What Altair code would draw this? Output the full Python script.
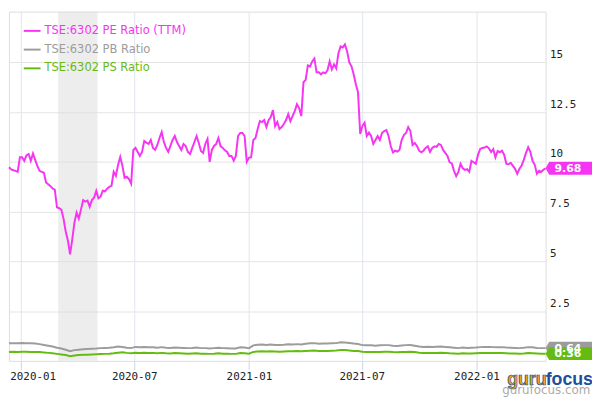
import altair as alt
import pandas as pd

# ---- data ----
start_date = "2019-12-13"
# PE Ratio (TTM), read every 3.5 days
pe_values = [
    9.73, 9.62, 9.58, 9.55, 9.50, 10.23, 10.23, 10.05, 10.33, 10.40,
    10.05, 10.42, 10.10, 9.80, 9.55, 9.50, 9.45, 8.97, 8.87, 8.78,
    8.66, 8.60, 7.72, 7.67, 7.60, 7.15, 6.50, 6.05, 5.35, 6.10,
    6.95, 7.45, 7.15, 7.60, 8.08, 8.00, 8.05, 7.75, 8.08, 8.20,
    8.54, 8.17, 8.25, 8.55, 8.52, 8.65, 8.75, 8.80, 9.50, 9.30,
    9.85, 10.25, 9.80, 9.20, 9.25, 9.13, 8.90, 10.60, 10.70, 10.50,
    10.30, 10.50, 11.05, 10.97, 10.90, 11.10, 10.70, 10.60, 10.85, 11.20,
    11.50, 11.00, 10.70, 10.50, 10.80, 11.10, 11.30, 11.00, 10.80, 10.60,
    10.90, 10.80, 10.50, 10.40, 10.70, 11.00, 11.30, 10.95, 10.55, 10.45,
    10.90, 11.15, 10.00, 10.60, 10.80, 10.90, 11.20, 10.78, 10.70, 10.58,
    10.50, 10.30, 10.30, 10.06, 10.30, 11.30, 11.45, 11.45, 11.30, 10.00,
    10.20, 10.23, 11.10, 11.20, 11.65, 12.05, 12.00, 12.10, 11.75, 12.10,
    12.25, 12.60, 11.80, 12.00, 11.65, 11.75, 11.90, 12.10, 12.40, 12.05,
    12.30, 12.55, 12.90, 12.70, 12.30, 14.00, 14.12, 14.85, 14.80, 15.05,
    15.20, 14.50, 14.50, 14.40, 14.50, 14.45, 14.60, 15.05, 14.65, 14.90,
    14.70, 15.45, 15.80, 15.75, 15.90, 15.55, 15.00, 14.80, 14.40, 13.90,
    13.50, 11.40, 11.80, 11.97, 11.30, 11.47, 11.30, 10.90, 11.10, 11.30,
    11.10, 11.45, 11.55, 11.60, 11.30, 10.80, 10.48, 10.56, 10.52, 10.60,
    11.10, 11.35, 11.45, 11.75, 11.55, 10.85, 10.95, 10.80, 10.56, 10.48,
    10.56, 10.70, 10.78, 10.50, 10.70, 10.78, 10.75, 10.90, 10.85, 10.60,
    10.45, 10.30, 9.98, 9.92, 9.55, 9.28, 9.50, 9.90, 9.68, 9.60,
    9.63, 9.50, 10.05, 9.98, 9.90, 10.35, 10.65, 10.70, 10.72, 10.78,
    10.68, 10.50, 10.64, 10.23, 10.55, 10.48, 10.56, 10.35, 9.90, 9.88,
    9.95, 9.80, 9.65, 9.40, 9.65, 9.82, 10.10, 10.45, 10.73, 10.50,
    10.05, 9.85, 9.40, 9.55, 9.50, 9.60, 9.68,
]
# PB and PS Ratio, read weekly
pb_values = [
    0.88, 0.89, 0.88, 0.90, 0.89, 0.88, 0.87, 0.84, 0.80, 0.76,
    0.72, 0.66, 0.62, 0.56, 0.48, 0.54, 0.56, 0.58, 0.60, 0.61,
    0.62, 0.64, 0.65, 0.66, 0.68, 0.72, 0.70, 0.66, 0.64, 0.70,
    0.68, 0.70, 0.68, 0.68, 0.66, 0.69, 0.66, 0.65, 0.67, 0.66,
    0.65, 0.64, 0.65, 0.67, 0.64, 0.64, 0.62, 0.64, 0.66, 0.64,
    0.63, 0.62, 0.62, 0.68, 0.67, 0.64, 0.78, 0.81, 0.82, 0.80,
    0.82, 0.80, 0.80, 0.81, 0.83, 0.82, 0.84, 0.82, 0.86, 0.88,
    0.89, 0.86, 0.87, 0.87, 0.88, 0.89, 0.93, 0.92, 0.90, 0.87,
    0.85, 0.79, 0.78, 0.78, 0.76, 0.78, 0.79, 0.79, 0.76, 0.75,
    0.77, 0.79, 0.80, 0.76, 0.72, 0.70, 0.71, 0.70, 0.71, 0.72,
    0.70, 0.68, 0.66, 0.64, 0.67, 0.65, 0.66, 0.67, 0.69, 0.70,
    0.70, 0.69, 0.68, 0.69, 0.67, 0.66, 0.65, 0.64, 0.66, 0.69,
    0.68, 0.65, 0.64, 0.64,
]
ps_values = [
    0.45, 0.46, 0.45, 0.46, 0.46, 0.45, 0.45, 0.44, 0.42, 0.40,
    0.38, 0.35, 0.32, 0.29, 0.23, 0.27, 0.29, 0.31, 0.31, 0.32,
    0.33, 0.34, 0.35, 0.36, 0.38, 0.41, 0.43, 0.40, 0.38, 0.41,
    0.40, 0.41, 0.40, 0.40, 0.38, 0.40, 0.38, 0.37, 0.39, 0.38,
    0.37, 0.36, 0.37, 0.38, 0.36, 0.36, 0.35, 0.36, 0.38, 0.36,
    0.36, 0.35, 0.35, 0.39, 0.38, 0.36, 0.45, 0.47, 0.48, 0.47,
    0.48, 0.47, 0.46, 0.47, 0.48, 0.48, 0.49, 0.48, 0.50, 0.51,
    0.52, 0.50, 0.50, 0.50, 0.51, 0.52, 0.54, 0.54, 0.52, 0.50,
    0.49, 0.46, 0.45, 0.45, 0.44, 0.45, 0.46, 0.46, 0.44, 0.43,
    0.44, 0.45, 0.46, 0.44, 0.41, 0.40, 0.40, 0.39, 0.40, 0.41,
    0.40, 0.38, 0.37, 0.36, 0.38, 0.37, 0.37, 0.38, 0.39, 0.40,
    0.40, 0.39, 0.39, 0.39, 0.38, 0.37, 0.37, 0.36, 0.37, 0.39,
    0.38, 0.37, 0.36, 0.36,
]
series_names = ["TSE:6302 PE Ratio (TTM)", "TSE:6302 PB Ratio", "TSE:6302 PS Ratio"]
series_colors = ["#f535f2", "#9c9c9c", "#66bb11"]
band_start = "2020-03-01"
band_end = "2020-05-03"
x_tick_dates = ["2020-01-01", "2020-07-01", "2021-01-01", "2021-07-01", "2022-01-01"]
y_tick_values = [2.5, 5, 7.5, 10, 12.5, 15]

pe_dates = pd.date_range(start_date, periods=len(pe_values), freq="84h")
wk_dates = pd.date_range(start_date, periods=len(pb_values), freq="7D")
df = pd.concat([
    pd.DataFrame({"date": pe_dates, "value": pe_values, "series": series_names[0]}),
    pd.DataFrame({"date": wk_dates, "value": pb_values, "series": series_names[1]}),
    pd.DataFrame({"date": wk_dates, "value": ps_values, "series": series_names[2]}),
], ignore_index=True)
df["date"] = df["date"].dt.strftime("%Y-%m-%dT%H:%M:%S")

end_str = pe_dates[-1].strftime("%Y-%m-%dT%H:%M:%S")
last = pd.DataFrame({
    "date": [end_str] * 3,
    "value": [pb_values[-1], ps_values[-1], pe_values[-1]],
    "series": [series_names[1], series_names[2], series_names[0]],
    "order": [0, 1, 2],
})
last["label"] = last["value"].map(lambda v: f"{v:.2f}")

band = pd.DataFrame({"start": [band_start + "T00:00:00"], "end": [band_end + "T00:00:00"]})

def dt(s):
    y, m, d = [int(p) for p in s.split("-")]
    return alt.DateTime(year=y, month=m, date=d)

x_scale = alt.Scale(domain=[dt("2019-12-13"), dt("2022-04-22")])
y_scale = alt.Scale(domain=[0, 17.55], nice=False, zero=True)
color_scale = alt.Scale(domain=series_names, range=series_colors)

x_axis = alt.Axis(
    values=[dt(s) for s in x_tick_dates], format="%Y-%m", title=None,
    grid=True, gridColor="#dfe5ee", gridWidth=1, domain=False,
    ticks=True, tickSize=9, tickColor="#c9d5e6",
    labelFont="DejaVu Sans Mono", labelFontSize=11, labelColor="#222222",
    labelPadding=1,
    labelOffset={"condition": {"test": "year(datum.value) == 2020 && month(datum.value) == 0", "value": 12}, "value": 0},
)
y_axis = alt.Axis(
    values=y_tick_values, orient="right", title=None,
    labelExpr="toString(datum.value)",
    grid=True, gridColor="#e4e4e4", domain=False, ticks=False,
    labelFont="DejaVu Sans Mono", labelFontSize=11, labelColor="#222222",
    labelPadding=4, labelBaseline="alphabetic", labelOffset=-5,
)

band_layer = alt.Chart(band).mark_rect(color="#dcdcdc", opacity=0.5).encode(
    x=alt.X("start:T", scale=x_scale, axis=x_axis),
    x2="end:T",
)

label_color_expr = (
    "datum.label == '" + series_names[0] + "' ? '" + series_colors[0] + "' : "
    "datum.label == '" + series_names[1] + "' ? '" + series_colors[1] + "' : '" + series_colors[2] + "'"
)

lines = alt.Chart(df).mark_line(strokeWidth=2).encode(
    x=alt.X("date:T", scale=x_scale, axis=x_axis),
    y=alt.Y("value:Q", scale=y_scale, axis=y_axis),
    color=alt.Color("series:N", scale=color_scale, sort=series_names,
                    legend=alt.Legend(
                        title=None, orient="none", legendX=14, legendY=10,
                        symbolType="stroke", symbolSize=289, symbolStrokeWidth=2,
                        labelFont="DejaVu Sans", labelFontSize=11.6,
                        labelColor=alt.ExprRef(label_color_expr),
                        labelOffset=3, rowPadding=3, padding=0, labelLimit=300,
                    )),
)

tag_shape = "M 0 0 L 0.55 -1 L 7.4 -1 L 7.4 1 L 0.55 1 Z"
tags = alt.Chart(last).mark_point(shape=tag_shape, size=169, filled=True, opacity=1, strokeWidth=0).encode(
    x=alt.X("date:T", scale=x_scale),
    y=alt.Y("value:Q", scale=y_scale),
    color=alt.Color("series:N", scale=color_scale, legend=None),
    order="order:Q",
)
tag_text = alt.Chart(last).mark_text(align="left", baseline="middle", dx=9, dy=0.5,
                                      font="DejaVu Sans", fontSize=11, fontWeight="bold",
                                      color="white").encode(
    x=alt.X("date:T", scale=x_scale),
    y=alt.Y("value:Q", scale=y_scale),
    text="label:N",
    order="order:Q",
)

wm_site = alt.Chart(pd.DataFrame({"t": ["gurufocus.com"]})).mark_text(
    align="left", baseline="alphabetic", font="DejaVu Sans", fontSize=12, color="#aaaaaa"
).encode(x=alt.value(500), y=alt.value(388), text="t:N")
wm_guru = alt.Chart(pd.DataFrame({"t": ["guru"]})).mark_text(
    align="left", baseline="alphabetic", font="Liberation Sans", fontSize=18, fontWeight="bold",
    color="#f5a300", stroke="#1d4f9e", strokeWidth=0.7
).encode(x=alt.value(505), y=alt.value(378), text="t:N")
wm_focus = alt.Chart(pd.DataFrame({"t": ["focus"]})).mark_text(
    align="left", baseline="alphabetic", font="Liberation Sans", fontSize=18, fontWeight="bold",
    color="#1d4f9e"
).encode(x=alt.value(544), y=alt.value(378), text="t:N")

chart = alt.layer(band_layer, lines, tags, tag_text, wm_site, wm_guru, wm_focus).properties(
    width=544, height=354,
    autosize=alt.AutoSizeParams(type="none"),
    padding={"left": 1, "top": 1, "right": 47, "bottom": 37},
).configure_view(
    stroke="black", strokeWidth=1
).configure(background="white")

chart.save("out.html", embed_options={"renderer": "svg", "actions": False})
